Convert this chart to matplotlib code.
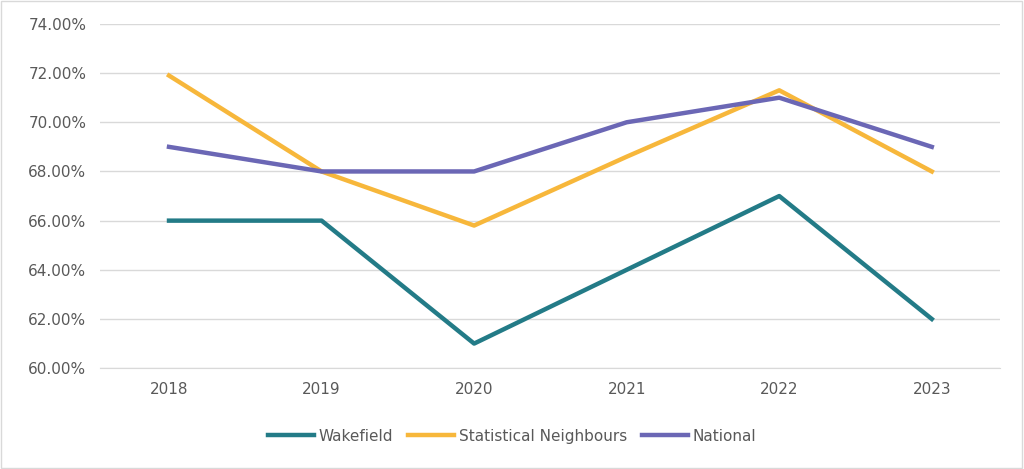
import matplotlib.pyplot as plt
from matplotlib.ticker import FuncFormatter

years = ["2018", "2019", "2020", "2021", "2022", "2023"]
wakefield = [66.0, 66.0, 61.0, 64.0, 67.0, 62.0]
stat_neighbours = [71.9, 68.0, 65.8, 68.6, 71.3, 68.0]
national = [69.0, 68.0, 68.0, 70.0, 71.0, 69.0]

fig = plt.figure(figsize=(10.24, 4.69), dpi=100)
ax = fig.add_axes([0.098, 0.215, 0.879, 0.734])
fig.patches.append(plt.Rectangle((0.001, 0.002), 0.997, 0.996, transform=fig.transFigure,
                                 fill=False, edgecolor="#d9d9d9", linewidth=1))

x = range(len(years))
ax.plot(x, wakefield, color="#237b87", lw=3.2, label="Wakefield")
ax.plot(x, stat_neighbours, color="#f7b73b", lw=3.2, label="Statistical Neighbours")
ax.plot(x, national, color="#6b67b5", lw=3.2, label="National")

ax.set_xlim(-0.45, 5.45)
ax.set_ylim(60, 74)
ax.set_yticks(range(60, 75, 2))
ax.yaxis.set_major_formatter(FuncFormatter(lambda v, p: "%.2f%%" % v))
ax.set_xticks(list(x))
ax.set_xticklabels(years)
ax.grid(axis="y", color="#d9d9d9", lw=1)
ax.set_axisbelow(True)
for s in ["top", "right", "left"]:
    ax.spines[s].set_visible(False)
ax.spines["bottom"].set_color("#d9d9d9")
ax.tick_params(length=0, labelsize=11, colors="#595959", pad=10)

fig.legend(loc="center", bbox_to_anchor=(0.5, 0.07), ncol=3, frameon=False,
           fontsize=11, handlelength=3, columnspacing=1, handletextpad=0.3,
           labelcolor="#595959")
fig.savefig("out.png")
